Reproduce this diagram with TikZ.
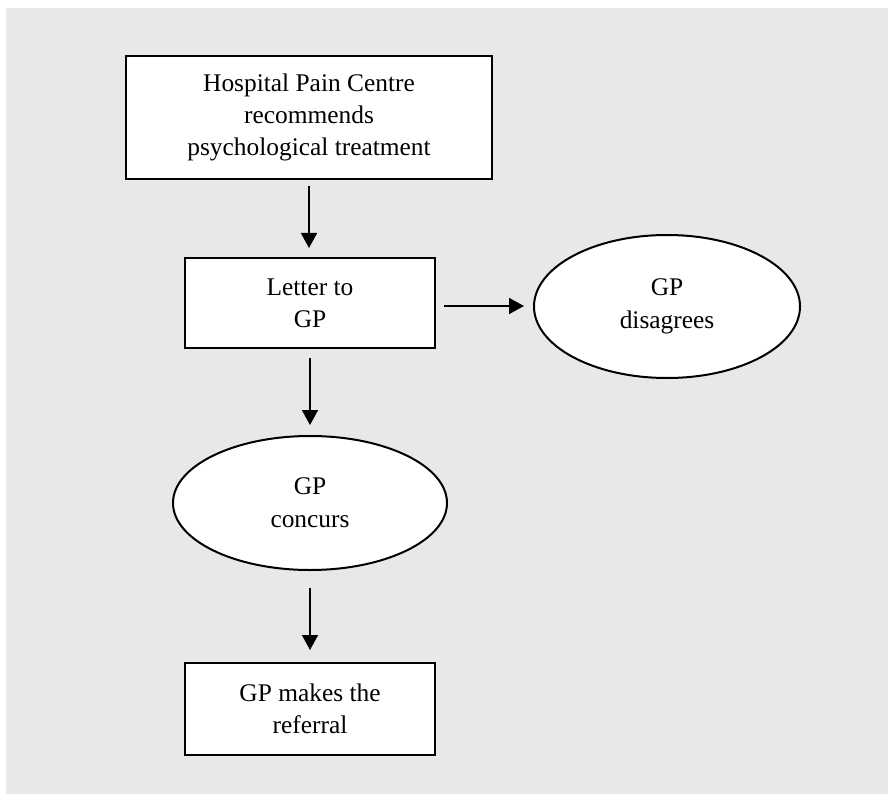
\documentclass[tikz,border=0pt]{standalone}
\usepackage{fontspec}
\setmainfont{Liberation Serif}
\usetikzlibrary{shapes.geometric,arrows.meta}
\definecolor{bggray}{RGB}{232,232,232}
\tikzset{
  boxnode/.style={draw=black, line width=2pt, fill=white, rectangle, inner sep=0pt, align=center,
    font=\fontsize{25.4}{32}\selectfont},
  ellnode/.style={draw=black, line width=2pt, fill=white, ellipse, inner sep=0pt, align=center,
    font=\fontsize{25.4}{33}\selectfont},
  arr/.style={line width=1.6pt, -{Triangle[width=16pt,length=15pt]}}
}
\begin{document}
\begin{tikzpicture}[x=1pt,y=-1pt]
\useasboundingbox (0,0) rectangle (888,794);
\fill[bggray] (6,8) rectangle (888,794);
\node[boxnode, minimum width=366pt, minimum height=123pt] (top) at (309,117.5)
  {Hospital Pain Centre\\recommends\\psychological treatment};
\node[boxnode, minimum width=250pt, minimum height=90pt] (letter) at (310,303) {Letter to\\GP};
\node[ellnode, minimum width=266pt, minimum height=143pt] (disagree) at (667,306.5) {GP\\disagrees};
\node[ellnode, minimum width=274pt, minimum height=134pt] (concur) at (310,503) {GP\\concurs};
\node[boxnode, minimum width=250pt, minimum height=92pt] (referral) at (310,709) {GP makes the\\referral};
\draw[arr] ([yshift=-6pt]top.south) -- ([yshift=9pt]top.south |- letter.north);
\draw[arr] ([yshift=-9pt]letter.south) -- ([yshift=10pt]concur.north);
\draw[arr] ([xshift=8pt,yshift=-3pt]letter.east) -- ([xshift=-9pt,yshift=-3pt]letter.east -| disagree.west);
\draw[arr] ([yshift=-17pt]concur.south) -- ([yshift=12pt]referral.north);
\end{tikzpicture}
\end{document}
